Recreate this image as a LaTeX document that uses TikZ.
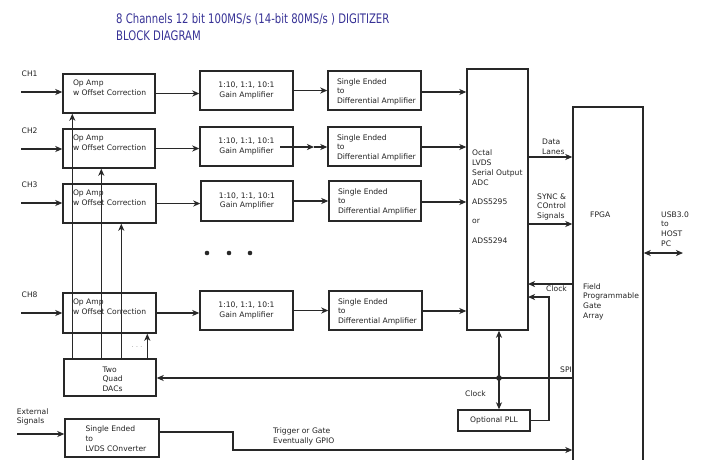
\documentclass[tikz,border=0pt]{standalone}
\usepackage{fontspec}
\setmainfont{DejaVu Sans}
\usetikzlibrary{arrows.meta,calc}
\definecolor{lc}{RGB}{40,40,40}
\definecolor{tc}{RGB}{35,35,35}
\definecolor{titlec}{RGB}{55,50,150}
\begin{document}
\begin{tikzpicture}[x=1pt,y=-1pt,
 box/.style={draw=lc, line width=1.4pt, inner sep=0pt},
 txt/.style={inner sep=0pt, align=left, text=tc, font=\fontsize{7.6}{9.7}\selectfont},
 arr/.style={draw=lc, line width=1.4pt, -{Stealth[length=7pt,width=6pt,inset=2pt]}},
 darr/.style={draw=lc, line width=1.4pt, {Stealth[length=7pt,width=6pt,inset=2pt]}-{Stealth[length=7pt,width=6pt,inset=2pt]}},
 ttl/.style={inner sep=0pt, anchor=base west, text=titlec, font=\fontsize{10.1}{12}\selectfont}]
\useasboundingbox (0,0) rectangle (704,459);
\clip (0,0) rectangle (704,459);
\fill[white] (0,0) rectangle (704,459);

% title
\node[ttl] (t1) at (116,23.5) {\scalebox{1}[1.3]{8 Channels 12 bit 100MS/s (14-bit 80MS/s ) DIGITIZER}};
\node[ttl] (t2) at (116,40.5) {\scalebox{1}[1.3]{BLOCK DIAGRAM}};

% op amp boxes
\node[box, minimum width=92, minimum height=39] (op1) at (109,93.5) {};
\node[box, minimum width=92, minimum height=39] (op2) at (109,148.5) {};
\node[box, minimum width=93, minimum height=39] (op3) at (109.5,203.5) {};
\node[box, minimum width=93, minimum height=40] (op8) at (109.5,313) {};
\foreach \n in {op1,op2,op3,op8}{
  \node[txt, anchor=north west] (\n t) at ($(\n.north west)+(10.5,6.3)$) {Op Amp\\w Offset Correction};
}

% gain boxes
\node[box, txt, align=center, minimum width=93, minimum height=39] (g1) at (246.5,90.5) {1:10, 1:1, 10:1\\Gain Amplifier};
\node[box, txt, align=center, minimum width=93, minimum height=39] (g2) at (246.5,146.5) {1:10, 1:1, 10:1\\Gain Amplifier};
\node[box, txt, align=center, minimum width=92, minimum height=40] (g3) at (247,201) {1:10, 1:1, 10:1\\Gain Amplifier};
\node[box, txt, align=center, minimum width=93, minimum height=39] (g8) at (246.5,310.5) {1:10, 1:1, 10:1\\Gain Amplifier};

% single ended to differential
\node[box, minimum width=93, minimum height=39] (se1) at (374.5,90.5) {};
\node[box, minimum width=93, minimum height=39] (se2) at (374.5,146.5) {};
\node[box, minimum width=92, minimum height=40] (se3) at (375,201) {};
\node[box, minimum width=93, minimum height=39] (se8) at (375.5,310.5) {};
\foreach \n in {se1,se2,se3,se8}{
  \node[txt, anchor=north west] (\n t) at ($(\n.north west)+(9.5,8)$) {Single Ended\\to\\Differential Amplifier};
}

% ADC
\node[box, minimum width=61, minimum height=261] (adc) at (497.5,199.5) {};
\node[txt, anchor=north west] (adct) at (472,150) {Octal\\LVDS\\Serial Output\\ADC\\[9.7pt]ADS5295\\[9.7pt]or\\[9.7pt]ADS5294};

% FPGA
\node[box, minimum width=70, minimum height=363] (fpga) at (608,288.5) {};
\node[txt, anchor=west] (fpgat) at (590,215) {FPGA};
\node[txt, anchor=north west] (fpgat2) at (583,283.2) {Field\\Programmable\\Gate\\Array};

% DACs, converter, PLL
\node[box, minimum width=92, minimum height=37] (dac) at (110,377.5) {};
\node[txt, anchor=north west] (dact) at ($(dac.north west)+(39,8)$) {Two\\Quad\\DACs};
\node[box, minimum width=94, minimum height=38] (lvds) at (112,438) {};
\node[txt, anchor=north west] (lvdst) at ($(lvds.north west)+(21,7.5)$) {Single Ended\\to\\LVDS COnverter};
\node[box, txt, align=center, minimum width=72, minimum height=21] (pll) at (494,420.5) {Optional PLL};

% channel labels and inputs
\node[txt, anchor=west] (ch1) at (21.5,74) {CH1};
\node[txt, anchor=west] (ch2) at (21.5,130.3) {CH2};
\node[txt, anchor=west] (ch3) at (21.5,184.7) {CH3};
\node[txt, anchor=west] (ch8) at (21.5,294.3) {CH8};
\coordinate (in1) at (21,92);
\coordinate (in2) at (21,149);
\coordinate (in3) at (21,203);
\coordinate (in8) at (21,313);
\draw[arr] (in1) -- (in1 -| op1.west);
\draw[arr] (in2) -- (in2 -| op2.west);
\draw[arr] (in3) -- (in3 -| op3.west);
\draw[arr] (in8) -- (in8 -| op8.west);

% chain arrows
\draw[arr] (op1.east) -- (g1.west |- op1.east);
\draw[arr] (op2.east) -- (g2.west |- op2.east);
\draw[arr] (op3.east) -- (g3.west |- op3.east);
\draw[arr] (op8.east) -- (g8.west |- op8.east);
\draw[arr] (g1.east) -- (se1.west |- g1.east);
\coordinate (g2a) at (280,147);
\coordinate (g2b) at (314,147);
\draw[arr] (g2a) -- (g2b);
\draw[arr] (g2b) -- (se2.west |- g2b);
\draw[arr] (g3.east) -- (se3.west |- g3.east);
\draw[arr] (g8.east) -- (se8.west |- g8.east);
\coordinate (a1) at (421,92);
\coordinate (a2) at (421,147);
\coordinate (a3) at (421,202);
\coordinate (a8) at (421,311);
\draw[arr] (a1) -- (a1 -| adc.west);
\draw[arr] (a2) -- (a2 -| adc.west);
\draw[arr] (a3) -- (a3 -| adc.west);
\draw[arr] (a8) -- (a8 -| adc.west);

% dots
\fill[lc] (207,253) circle (2.3);
\fill[lc] (229,253) circle (2.3);
\fill[lc] (250,253) circle (2.3);

% DAC outputs
\coordinate (d1) at ($(dac.north west)+(9,0)$);
\coordinate (d2) at ($(dac.north west)+(38,0)$);
\coordinate (d3) at ($(dac.north west)+(58,0)$);
\coordinate (d4) at ($(dac.north west)+(84,0)$);
\draw[arr] (d1) -- (d1 |- op1.south);
\draw[arr] (d2) -- (d2 |- op2.south);
\draw[arr] (d3) -- (d3 |- op3.south);
\draw[arr] (d4) -- (d4 |- op8.south);
\node[txt, text=gray, font=\fontsize{6}{7}\selectfont] (ddd) at (137,347) {. . .};

% ADC -> FPGA
\coordinate (dl) at (528,157);
\coordinate (sy) at (528,224);
\draw[arr] (dl) -- (dl -| fpga.west);
\draw[arr] (sy) -- (sy -| fpga.west);
\node[txt, anchor=north west] (dlt) at (542,138.9) {Data\\Lanes};
\node[txt, anchor=north west] (syt) at (537,193.2) {SYNC \&\\COntrol\\Signals};

% USB
\coordinate (usb) at (683,253);
\draw[darr] (fpga.east |- usb) -- (usb);
\node[txt, anchor=north west] (usbt) at (661,211.2) {USB3.0\\to\\HOST\\PC};

% clocks
\coordinate (ck) at (528,284);
\draw[arr] (ck -| fpga.west) -- (ck);
\node[txt, anchor=west] (ckt) at (546,288.3) {Clock};
\coordinate (ck2) at (528,297);
\coordinate (ckc) at (549,297);
\draw[arr] (pll.east) -| (ckc) -- (ck2);

% SPI and ADC/PLL
\coordinate (sp) at (499,378);
\draw[darr] (sp |- adc.south) -- (sp |- pll.north);
\fill[lc] (sp) circle (2.8);
\draw[arr] (sp -| fpga.west) -- (sp -| dac.east);
\node[txt, anchor=west] (spit) at (560,370) {SPI};
\node[txt, anchor=west] (ck3t) at (465,394) {Clock};

% external / trigger
\node[txt, anchor=north west] (ext) at (16.7,408.2) {External\\Signals};
\coordinate (ex) at (17,434);
\draw[arr] (ex) -- (ex -| lvds.west);
\coordinate (tr1) at (233,432);
\coordinate (tr2) at (233,450);
\draw[arr] (lvds.east |- tr1) -- (tr1) -- (tr2) -- (tr2 -| fpga.west);
\node[txt, anchor=north west] (trt) at (273,427.5) {Trigger or Gate\\Eventually GPIO};
\end{tikzpicture}
\end{document}
